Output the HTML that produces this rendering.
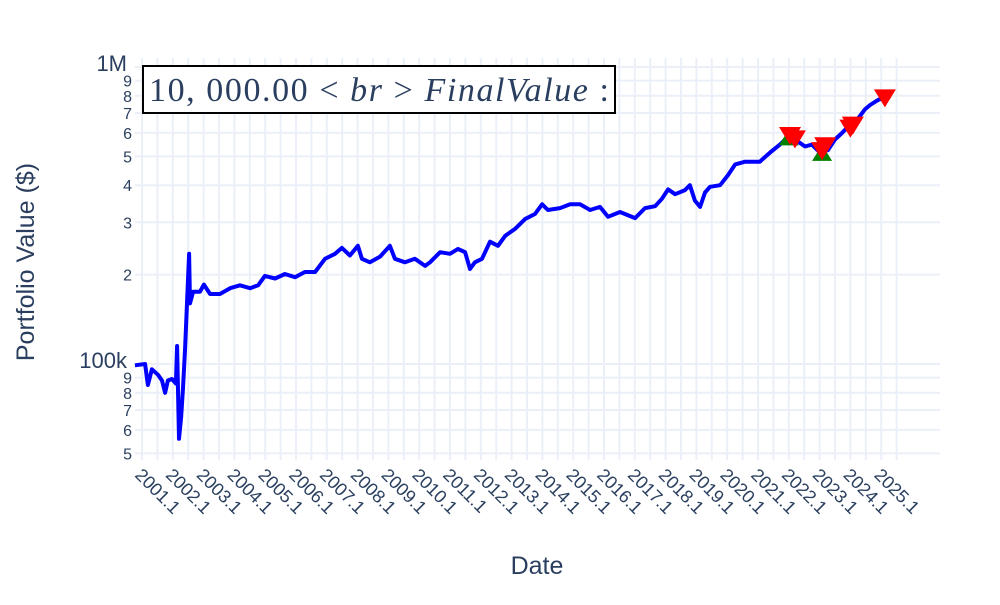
<!DOCTYPE html>
<html><head><meta charset="utf-8"><style>
body{margin:0;background:#fff;}
svg text{font-family:"Liberation Sans",sans-serif;fill:#2a3f5f;}
</style></head><body>
<svg id="chart" width="1000" height="600" xmlns="http://www.w3.org/2000/svg">
<g id="grid"></g>
<g id="series"></g>
<g id="axes"></g>
<g>
<rect x="143" y="66" width="472" height="47" fill="#fff" stroke="#000" stroke-width="2"/>
<text x="149" y="101" textLength="460" style="font-family:'Liberation Serif',serif;font-size:34px"><tspan>10, 000.00 &lt; </tspan><tspan font-style="italic">br</tspan><tspan> &gt; </tspan><tspan font-style="italic">FinalValue</tspan><tspan> :</tspan></text>
</g>
<text transform="translate(34,262) rotate(-90)" text-anchor="middle" font-size="25">Portfolio Value ($)</text>
<text x="537" y="574" text-anchor="middle" font-size="25">Date</text>
</svg>
<script>
const dates=[2000.77,2001.10,2001.16,2001.19,2001.32,2001.52,2001.65,2001.75,2001.84,2001.97,2002.10,2002.14,2002.20,2002.27,2002.33,2002.40,2002.53,2002.56,2002.66,2002.88,2003.01,2003.21,2003.53,2003.86,2004.18,2004.51,2004.77,2004.99,2005.32,2005.64,2005.97,2006.29,2006.62,2006.94,2007.27,2007.49,2007.75,2008.01,2008.14,2008.40,2008.73,2009.05,2009.21,2009.54,2009.86,2010.19,2010.35,2010.68,2011.00,2011.26,2011.49,2011.65,2011.81,2012.04,2012.30,2012.56,2012.79,2013.11,2013.44,2013.76,2013.99,2014.18,2014.57,2014.90,2015.22,2015.55,2015.87,2016.13,2016.52,2017.01,2017.33,2017.66,2017.88,2018.08,2018.31,2018.63,2018.79,2018.95,2019.12,2019.28,2019.44,2019.77,2020.03,2020.26,2020.58,2021.06,2021.39,2021.71,2022.04,2022.20,2022.53,2022.75,2023.01,2023.27,2023.50,2023.73,2023.99,2024.15,2024.47,2024.64,2024.90,2025.12];
const values=[99,100,90,85,96,92,88,80,88,89,86,115,56,66,83,113,235,160,175,175,185,172,172,180,184,180,184,198,194,201,196,204,204,226,235,246,232,250,226,220,230,250,226,220,226,214,220,238,235,244,238,209,220,226,258,250,270,285,308,320,345,330,335,345,345,330,338,313,325,310,335,340,360,387,373,385,400,355,338,378,395,400,433,470,480,480,515,548,590,570,540,548,515,525,570,600,640,650,720,745,775,790];
const sellDates=[2022.04,2022.20,2023.08,2023.18,2024.00,2024.08,2025.12];
const sellValues=[590,575,525,545,625,640,790];
const buyDates=[2022.00,2023.08];
const buyValues=[575,510];
const yearTicks=[2001,2002,2003,2004,2005,2006,2007,2008,2009,2010,2011,2012,2013,2014,2015,2016,2017,2018,2019,2020,2021,2022,2023,2024,2025];
const yTickVals=[50,60,70,80,90,100,200,300,400,500,600,700,800,900,1000];
const yTickLabels=["5","6","7","8","9","100k","2","3","4","5","6","7","8","9","1M"];

const NS="http://www.w3.org/2000/svg";
const L=135,R=940,T=58,B=460;
const xs=d=>142+(d-2001)*30.8;
const ys=v=>364-Math.log10(v/100)*297;
function mk(tag,attrs,parent){const e=document.createElementNS(NS,tag);for(const k in attrs)e.setAttribute(k,attrs[k]);parent.appendChild(e);return e;}
const grid=document.getElementById('grid'),series=document.getElementById('series'),axes=document.getElementById('axes');
for(let i=0;i<yearTicks.length;i++){
  for(const off of [0,0.5]){
    const x=xs(yearTicks[i]+off);
    if(x>R)continue;
    const g=mk('line',{x1:x,x2:x,y1:T,y2:B,stroke:'#ebf0f8','stroke-width':2},grid);
    
    
  }
}
for(let i=0;i<yTickVals.length;i++){
  const y=ys(yTickVals[i]);
  const g=mk('line',{x1:L,x2:R,y1:y,y2:y,stroke:'#ebf0f8','stroke-width':2},grid);
  
  
  const big=yTickLabels[i].length>1;
  const t=mk('text',{x:big?127:132,y:y+(big?4:6),'text-anchor':'end','font-size':big?22:16},axes);
  t.textContent=yTickLabels[i];
  
  
}
for(let i=0;i<yearTicks.length;i++){
  const x=xs(yearTicks[i]);
  const t=mk('text',{transform:`translate(${x-8},${476}) rotate(45)`,'font-size':18},axes);
  t.textContent=yearTicks[i]+'.1';
  
  
}
let d='';
for(let i=0;i<dates.length;i++){d+=(i?'L':'M')+xs(dates[i]).toFixed(1)+','+ys(values[i]).toFixed(1);}
const p=mk('path',{d:d,fill:'none',stroke:'#0000ff','stroke-width':4,'stroke-linejoin':'round'},series);


for(let i=0;i<buyDates.length;i++){
  const x=xs(buyDates[i]),y=ys(buyValues[i]);
  const m=mk('path',{d:`M${x-10},${y+7}L${x+10},${y+7}L${x},${y-9}Z`,fill:'#008000'},series);
  
  
}
for(let i=0;i<sellDates.length;i++){
  const x=xs(sellDates[i]),y=ys(sellValues[i]);
  const m=mk('path',{d:`M${x-11},${y-8}L${x+11},${y-8}L${x},${y+10}Z`,fill:'#ff0000'},series);
  
  
}
</script>
</body></html>
